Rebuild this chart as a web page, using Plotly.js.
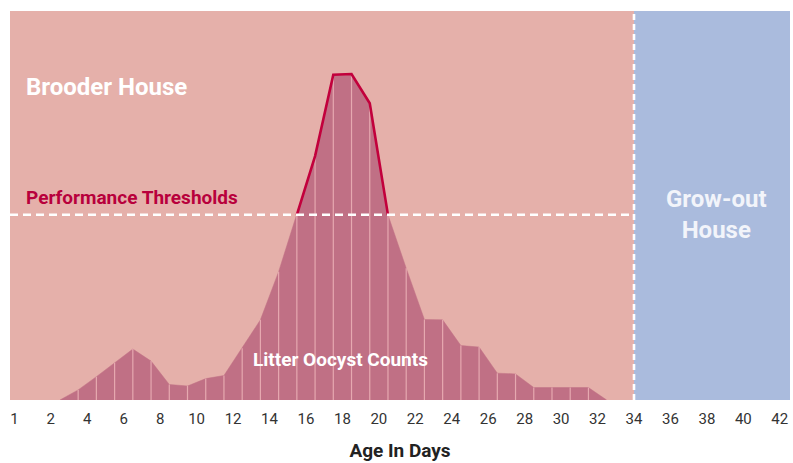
<!DOCTYPE html>
<html>
<head>
<meta charset="utf-8">
<script src="https://cdn.plot.ly/plotly-3.0.1.min.js"></script>
<style>
  html, body { margin: 0; padding: 0; background: #ffffff; }
  #chart { width: 793px; height: 463px; }
</style>
</head>
<body>
<div id="chart"></div>
<script>
// ---- data ----
// bar-edge positions (age in days) where the oocyst outline has a vertex
var days = [2.5, 3.5, 4.5, 5.5, 6.5, 7.5, 8.5, 9.5, 10.5, 11.5, 12.5, 13.5, 14.5, 15.5, 16.5,
            17.5, 18.5, 19.5, 20.5, 21.5, 22.5, 23.5, 24.5, 25.5, 26.5, 27.5, 28.5, 29.5, 30.5,
            31.5, 32.5];
// litter oocyst counts (relative scale, 0-100)
var counts = [0, 2.6, 6.0, 9.6, 13.1, 10.0, 4.0, 3.6, 5.5, 6.3, 13.3, 20.6, 33.0, 47.6, 62.7,
              83.6, 83.8, 76.3, 47.6, 33.9, 20.7, 20.6, 14.0, 13.6, 6.9, 6.7, 3.2, 3.2, 3.2,
              3.2, 0];
var threshold = 47.6;      // performance threshold level
var brooderEnd = 34;       // move from brooder house to grow-out house (day)
var tickValues = [0, 2, 4, 6, 8, 10, 12, 14, 16, 18, 20, 22, 24, 26, 28, 30, 32, 34, 36, 38, 40, 42];
var tickLabels = ['1', '2', '4', '6', '8', '10', '12', '14', '16', '18', '20', '22', '24', '26',
                  '28', '30', '32', '34', '36', '38', '40', '42'];
var labels = {
  brooder: 'Brooder House',
  growout: 'Grow-out<br>House',
  thresholds: 'Performance Thresholds',
  counts: 'Litter Oocyst Counts',
  xTitle: 'Age In Days'
};

// ---- styling ----
var FONT = 'Roboto, "Liberation Sans", sans-serif';
var PINK = '#e5b0aa';
var BLUE = '#aabbdd';
var MAUVE = '#c07085';
var CRIMSON = '#c2003c';
var X_RANGE = [-0.24, 42.56];

// separator lines between the day segments
var sepX = [], sepY = [];
for (var i = 1; i < days.length - 1; i++) {
  sepX.push(days[i], days[i], null);
  sepY.push(0, counts[i], null);
}
// red outline where counts exceed the threshold
var hiX = [], hiY = [];
for (var j = 0; j < days.length; j++) {
  if (counts[j] >= threshold) { hiX.push(days[j]); hiY.push(counts[j]); }
}

var traces = [
  {
    x: days, y: counts, type: 'scatter', mode: 'lines',
    fill: 'tozeroy', fillcolor: MAUVE,
    line: { color: MAUVE, width: 0.5 },
    hoverinfo: 'skip', showlegend: false
  },
  {
    x: sepX, y: sepY, type: 'scatter', mode: 'lines',
    line: { color: '#e6a9b0', width: 1.2 },
    hoverinfo: 'skip', showlegend: false
  },
  {
    x: hiX, y: hiY, type: 'scatter', mode: 'lines',
    line: { color: CRIMSON, width: 2.6 },
    hoverinfo: 'skip', showlegend: false
  }
];

var layout = {
  width: 793, height: 463,
  margin: { l: 10, r: 3, t: 11, b: 63, pad: 0 },
  paper_bgcolor: '#ffffff',
  plot_bgcolor: PINK,
  showlegend: false,
  xaxis: {
    range: X_RANGE, fixedrange: true,
    showgrid: false, zeroline: false, showline: false,
    ticks: '', tickmode: 'array', tickvals: tickValues, ticktext: tickLabels,
    ticklabelstandoff: 8,
    tickfont: { family: FONT, size: 15, color: '#333333' },
    title: { text: '<b>' + labels.xTitle + '</b>', font: { family: FONT, size: 19, color: '#222222' }, standoff: 16 }
  },
  yaxis: {
    range: [0, 100], fixedrange: true,
    showgrid: false, zeroline: false, showline: false,
    showticklabels: false, ticks: ''
  },
  shapes: [
    { type: 'rect', xref: 'x', yref: 'paper', x0: brooderEnd, x1: X_RANGE[1], y0: 0, y1: 1,
      fillcolor: BLUE, line: { width: 0 }, layer: 'below' },
    { type: 'line', xref: 'x', yref: 'y', x0: X_RANGE[0], x1: brooderEnd, y0: threshold, y1: threshold,
      line: { color: '#ffffff', width: 2.5, dash: '8px,5px' }, layer: 'above' },
    { type: 'line', xref: 'x', yref: 'paper', x0: brooderEnd, x1: brooderEnd, y0: 0, y1: 1,
      line: { color: '#ffffff', width: 2.6, dash: '6px,4px' }, layer: 'above' }
  ],
  annotations: [
    { xref: 'paper', yref: 'paper', x: 0.018, y: 0.805, xanchor: 'left', yanchor: 'middle',
      text: '<b>' + labels.brooder + '</b>', showarrow: false,
      font: { family: FONT, size: 24, color: '#ffffff' } },
    { xref: 'paper', yref: 'paper', x: 0.018, y: 0.52, xanchor: 'left', yanchor: 'middle',
      text: '<b>' + labels.thresholds + '</b>', showarrow: false,
      font: { family: FONT, size: 19, color: '#b8003c' } },
    { xref: 'paper', yref: 'paper', x: 0.424, y: 0.105, xanchor: 'center', yanchor: 'middle',
      text: '<b>' + labels.counts + '</b>', showarrow: false,
      font: { family: FONT, size: 19, color: '#ffffff' } },
    { xref: 'paper', yref: 'paper', x: 0.906, y: 0.478, xanchor: 'center', yanchor: 'middle',
      text: '<b>' + labels.growout + '</b>', showarrow: false, align: 'center',
      font: { family: FONT, size: 24, color: '#f2f4fa' } }
  ]
};

Plotly.newPlot('chart', traces, layout, { displayModeBar: false, staticPlot: true });
</script>
</body>
</html>
